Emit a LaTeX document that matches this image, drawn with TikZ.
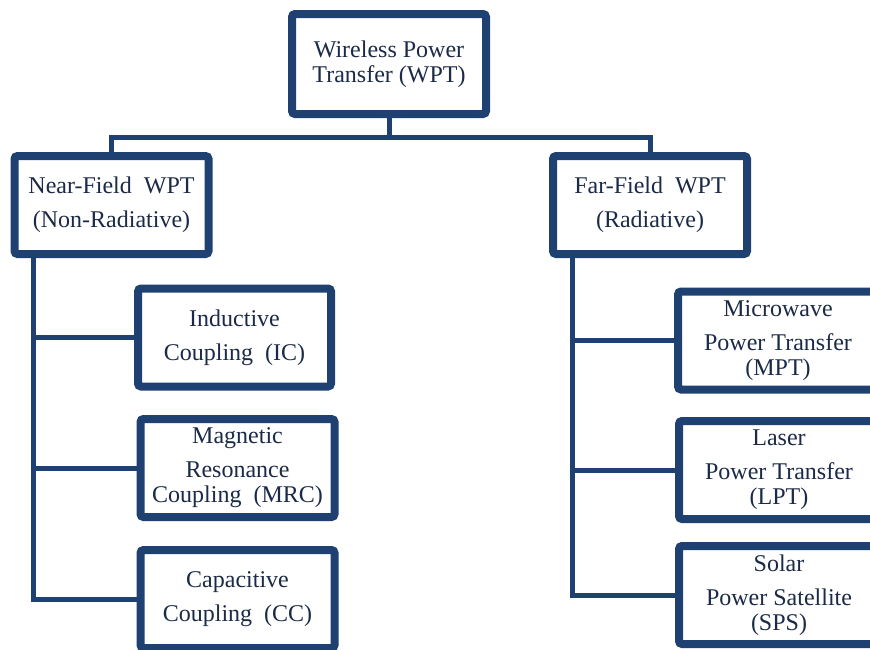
\documentclass[tikz,border=0pt]{standalone}
\usepackage{fontspec}
\setmainfont{Liberation Serif}
\usepackage{tikz}
\usetikzlibrary{shadows}
\definecolor{wptblue}{HTML}{1F4172}
\definecolor{wpttext}{HTML}{1B2A47}
\tikzset{box/.style={draw=wptblue, line width=4pt, fill=white, rounded corners=1.5pt, align=center, text=wpttext, inner sep=1pt, font=\fontsize{12}{12.5}\selectfont, minimum width=97pt, minimum height=49pt, drop shadow={shadow xshift=1.2pt, shadow yshift=-1.2pt, opacity=0.25}}, link/.style={draw=wptblue, line width=2.5pt}}

\begin{document}
\begin{tikzpicture}[x=0.5pt, y=-0.5pt]
      \clip (0,0) rectangle (870,649);
      \node [box, minimum height=50pt] (wpt) at (389,64) {Wireless Power\\Transfer (WPT)};
      \node [box] (near) at (111.5,205) {Near-Field\ \ WPT\\[4.5pt](Non-Radiative)};
      \node [box] (far) at (650,205) {Far-Field\ \ WPT\\[4.5pt](Radiative)};

      % near-field branch
      \node [box, minimum width=96.5pt] (ic) at (234.5,337.5) {Inductive\\[4.5pt]Coupling\ \ (IC)};
      \node [box] (mrc) at (237.5,468) {Magnetic\\[4.5pt]Resonance\\Coupling\ \ (MRC)};
      \node [box] (cc) at (237.5,599) {Capacitive\\[4.5pt]Coupling\ \ (CC)};

      % far-field branch
      \node [box, minimum width=100pt] (mpt) at (778,340.5) {Microwave\\[4.5pt]Power Transfer\\(MPT)};
      \node [box, minimum width=100pt] (lpt) at (779,470) {Laser\\[4.5pt]Power Transfer\\(LPT)};
      \node [box, minimum width=100pt] (sps) at (779,595) {Solar\\[4.5pt]Power Satellite\\(SPS)};

      \coordinate (split) at (389,137);
      \coordinate (nbus) at (33,258);
      \coordinate (fbus) at (572,258);

      \draw [link] (wpt.south) -- (split);
      \draw [link] (near.north) |- (split) -| (far.north);
      \draw [link] (nbus |- near.south) |- (cc.west) (nbus |- ic.west) -- (ic.west) (nbus |- mrc.west) -- (mrc.west);
      \draw [link] (fbus |- far.south) |- (sps.west) (fbus |- mpt.west) -- (mpt.west) (fbus |- lpt.west) -- (lpt.west);
    \end{tikzpicture}
\end{document}
